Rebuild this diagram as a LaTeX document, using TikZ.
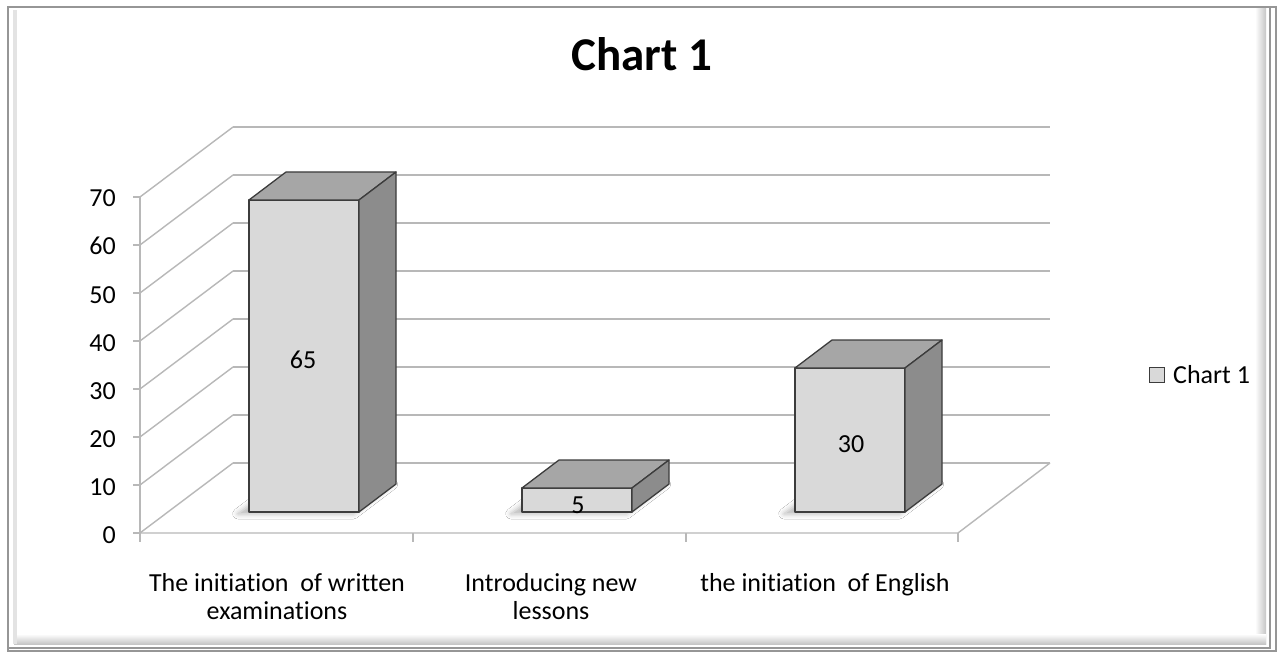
\documentclass[tikz,border=0pt]{standalone}
\usepackage{fontspec}
\setmainfont[Ligatures=NoCommon]{Carlito}
\usetikzlibrary{shadows.blur}
\definecolor{gridc}{RGB}{184,184,184}
\definecolor{frontc}{RGB}{217,217,217}
\definecolor{topc}{RGB}{166,166,166}
\definecolor{sidec}{RGB}{140,140,140}
\definecolor{edgec}{RGB}{60,60,60}
\definecolor{framec}{RGB}{150,150,150}
\begin{document}
\begin{tikzpicture}[x=1pt,y=-1pt,
  gridline/.style={draw=gridc, line width=1.4pt},
  barfront/.style={fill=frontc, draw=edgec, line width=1.3pt, line join=round},
  bartop/.style={fill=topc, draw=edgec, line width=1.3pt, line join=round},
  barside/.style={fill=sidec, draw=edgec, line width=1.3pt, line join=round},
  barshadow/.style={blur shadow={shadow xshift=-7pt, shadow yshift=-1pt, shadow scale=1.05, shadow blur radius=5pt, shadow opacity=30}},
  lbl/.style={font=\fontsize{26}{29}\selectfont, inner sep=0pt},
  catlbl/.style={font=\fontsize{26}{28}\selectfont, inner sep=0pt, align=center, anchor=base},
]
\useasboundingbox (0,0) rectangle (1283,655);
% frame
\fill[white] (0,0) rectangle (1283,655);
\shade[left color=white, right color=gray!45] (1255,8) rectangle (1266,644);
\shade[top color=white, bottom color=gray!45] (14,634) rectangle (1266,644);
\fill[gray!22] (13,10) rectangle (17,644);
\draw[framec, line width=1.2pt] (1270,8) -- (1270,648) -- (8,648);
\draw[framec, line width=1.6pt] (8,7) rectangle (1276,651);
% back wall grid lines and side wall diagonals
\foreach \k in {0,...,7} {
  \draw[gridline] (233,463-48*\k) -- (1050,463-48*\k);
  \draw[gridline] (140,533-48*\k) -- (233,463-48*\k);
  \draw[gridline] (133,533-48*\k) -- (140,533-48*\k);
}
% floor
\draw[gridline] (140,533) -- (958,533) -- (1050,463);
\draw[gridline] (140,533) -- (140,197);
\foreach \x in {140,413,686,958} {
  \draw[gridline] (\x,533) -- (\x,542);
}
% bars
\foreach \c/\v in {304/65, 577/5, 850/30} {
  \pgfmathsetmacro\xa{\c-55}
  \pgfmathsetmacro\xb{\c+55}
  \pgfmathsetmacro\yt{512-4.8*\v}
  \path[barshadow] (\xa,512) -- (\xb,512) -- (\xb+37,484) -- (\xa+37,484) -- cycle;
  \draw[barfront] (\xa,\yt) rectangle (\xb,512);
  \draw[bartop] (\xa,\yt) -- (\xa+37,\yt-28) -- (\xb+37,\yt-28) -- (\xb,\yt) -- cycle;
  \draw[barside] (\xb,\yt) -- (\xb+37,\yt-28) -- (\xb+37,484) -- (\xb,512) -- cycle;
}
% value labels
\node[lbl, anchor=base] (v65) at (303,368) {65};
\node[lbl, anchor=base] (v5) at (578,513) {5};
\node[lbl, anchor=base] (v30) at (851,452) {30};
% y axis labels
\foreach \v in {0,10,...,70} {
  \node[lbl, anchor=base east] (ylab\v) at (116,543-4.8*\v) {\v};
}
% category labels (base anchor = last line)
\node[catlbl] (catA) at (277,619) {The initiation\ \ of written\\examinations};
\node[catlbl] (catB) at (551,619) {Introducing new\\lessons};
\node[catlbl] (catC) at (825,591) {the initiation\ \ of English};
% title
\node[font=\bfseries\fontsize{47}{52}\selectfont, anchor=base, inner sep=0pt] (title) at (642,71) {Chart 1};
% legend
\node[draw=edgec, fill=frontc, minimum size=15pt, inner sep=0pt, line width=1.1pt] (legbox) at (1157,375) {};
\node[lbl, anchor=base west] (legtxt) at (1173,383) {Chart 1};
\end{tikzpicture}
\end{document}
